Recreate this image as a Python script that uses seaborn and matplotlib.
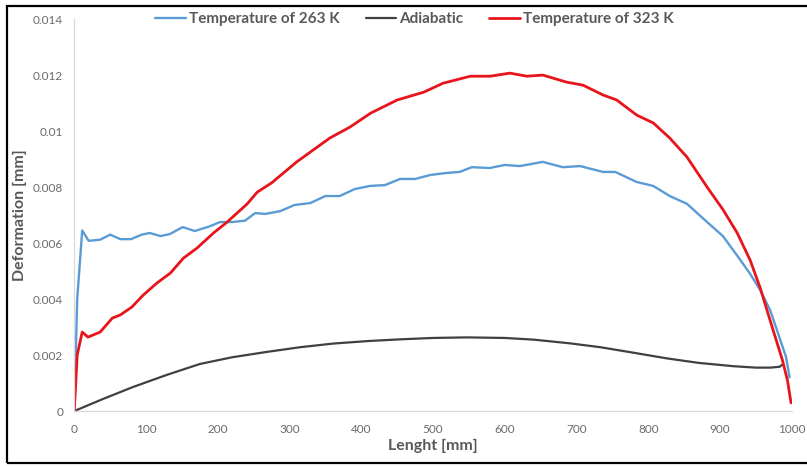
import numpy as np
import pandas as pd
import matplotlib
matplotlib.use("Agg")
import matplotlib.pyplot as plt
from matplotlib.patches import Rectangle
import seaborn as sns

# Deformation along the specimen length for the three thermal conditions
x_263 = [0, 4, 11, 20, 36, 50, 64, 79, 94, 105, 120, 133, 151, 168, 189, 203, 220,
         238, 252, 266, 287, 307, 329, 350, 370, 391, 412, 433, 454, 475, 496, 517,
         537, 554, 579, 600, 621, 653, 681, 705, 737, 754, 784, 807, 830, 854, 882,
         904, 924, 942, 956, 970, 984, 992, 997]
y_263 = [0.0, 0.0040, 0.00645, 0.00608, 0.00612, 0.00630, 0.00614, 0.00614, 0.00630,
         0.00636, 0.00625, 0.00632, 0.00657, 0.00643, 0.00660, 0.00675, 0.00675,
         0.00680, 0.00707, 0.00704, 0.00714, 0.00736, 0.00743, 0.00768, 0.00768,
         0.00793, 0.00804, 0.00807, 0.00829, 0.00829, 0.00843, 0.00850, 0.00854,
         0.00871, 0.00868, 0.00879, 0.00875, 0.00890, 0.00871, 0.00875, 0.00854,
         0.00854, 0.00818, 0.00804, 0.00768, 0.00740, 0.00675, 0.00625, 0.00555,
         0.00490, 0.00432, 0.00360, 0.00254, 0.00193, 0.00120]

x_adi = [0, 40, 82, 130, 175, 220, 268, 315, 361, 410, 454, 500, 547, 600, 640, 690,
         733, 780, 826, 870, 919, 950, 970, 983, 988]
y_adi = [0.0, 0.00043, 0.00086, 0.00130, 0.00168, 0.00192, 0.00211, 0.00228, 0.00241,
         0.00250, 0.00256, 0.00261, 0.00263, 0.00261, 0.00255, 0.00242, 0.00228,
         0.00208, 0.00188, 0.00172, 0.00160, 0.00155, 0.00155, 0.00158, 0.00168]

x_323 = [0, 4, 11, 19, 36, 53, 64, 80, 96, 115, 134, 152, 171, 194, 213, 241, 255,
         275, 310, 356, 384, 413, 450, 487, 514, 552, 580, 607, 631, 653, 686, 709,
         737, 756, 784, 807, 830, 854, 882, 904, 924, 942, 956, 974, 987, 994, 999]
y_323 = [0.0, 0.0020, 0.00282, 0.00264, 0.00282, 0.00332, 0.00343, 0.00371, 0.00414,
         0.00457, 0.00493, 0.00546, 0.00582, 0.00636, 0.00675, 0.00740, 0.00782,
         0.00815, 0.00890, 0.00975, 0.01014, 0.01064, 0.01111, 0.01139, 0.01171,
         0.01196, 0.01196, 0.01207, 0.01196, 0.01200, 0.01175, 0.01164, 0.01129,
         0.01111, 0.01057, 0.01029, 0.00975, 0.00907, 0.00800, 0.00720, 0.00636,
         0.00539, 0.00440, 0.00289, 0.00182, 0.00110, 0.00029]

series_names = ["Temperature of 263 K", "Adiabatic", "Temperature of 323 K"]
x_ticks = [0, 100, 200, 300, 400, 500, 600, 700, 800, 900, 1000]
y_ticks = [0, 0.002, 0.004, 0.006, 0.008, 0.01, 0.012, 0.014]
y_tick_labels = ["0", "0.002", "0.004", "0.006", "0.008", "0.01", "0.012", "0.014"]

sns.set_style("white")
plt.rcParams["font.family"] = ["Lato", "DejaVu Sans"]

fig = plt.figure(figsize=(8.07, 4.66), dpi=100)
ax = fig.add_axes([0.0921, 0.118, 0.889, 0.841])

colors = ["#5b9bd5", "#404040", "#e8141c"]
widths = [1.7, 1.6, 2.0]
for name, xs, ys, c, lw in zip(series_names, [x_263, x_adi, x_323],
                               [y_263, y_adi, y_323], colors, widths):
    df = pd.DataFrame({"x": xs, "y": ys})
    sns.lineplot(data=df, x="x", y="y", ax=ax, color=c, linewidth=lw,
                 label=name, sort=False, estimator=None)

ax.set_xlim(0, 1000)
ax.set_ylim(0, 0.014)
ax.set_xticks(x_ticks)
ax.set_xticklabels([str(t) for t in x_ticks])
ax.set_yticks(y_ticks)
ax.set_yticklabels(y_tick_labels)
ax.tick_params(axis="both", length=0, labelsize=8.5, colors="#6b6b6b")
ax.tick_params(axis="y", pad=8)
ax.tick_params(axis="x", pad=9)

for side in ["top", "right"]:
    ax.spines[side].set_visible(False)
for side in ["left", "bottom"]:
    ax.spines[side].set_color("#d9d9d9")
    ax.spines[side].set_linewidth(0.9)

ax.set_xlabel("Lenght [mm]", fontsize=11.5, fontweight="bold", color="#595959",
              labelpad=3)
ax.set_ylabel("Deformation [mm]", fontsize=11.5, fontweight="bold", color="#595959",
              labelpad=4)

leg = ax.legend(loc="center", bbox_to_anchor=(0.474, 1.0), ncol=3, frameon=False,
                fontsize=11, handlelength=2.0, handletextpad=0.2,
                columnspacing=1.7)
for t in leg.get_texts():
    t.set_color("#595959")
    t.set_fontweight("bold")

# Black frame around the chart area (open on the right edge)
fig.patches.append(Rectangle((7 / 807, 3 / 466), 1.2, 457 / 466,
                             transform=fig.transFigure, fill=False,
                             edgecolor="black", linewidth=1.6, clip_on=False))

fig.savefig("out.png", dpi=100)
